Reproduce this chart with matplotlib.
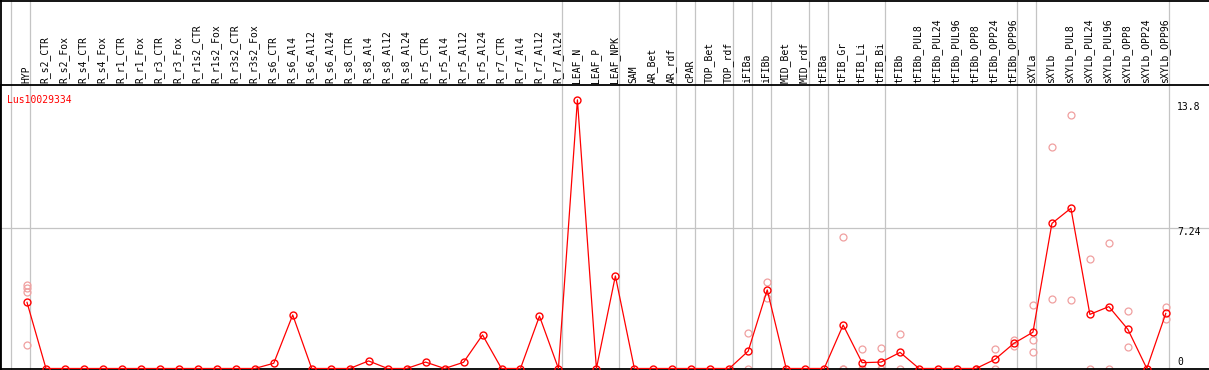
import matplotlib
matplotlib.use("Agg")
import matplotlib.pyplot as plt
from matplotlib.transforms import blended_transform_factory

gene = "Lus10029334"

labels = ["HYP",
          "R_s2_CTR", "R_s2_Fox", "R_s4_CTR", "R_s4_Fox", "R_r1_CTR", "R_r1_Fox",
          "R_r3_CTR", "R_r3_Fox", "R_r1s2_CTR", "R_r1s2_Fox", "R_r3s2_CTR", "R_r3s2_Fox",
          "R_s6_CTR", "R_s6_Al4", "R_s6_Al12", "R_s6_Al24", "R_s8_CTR", "R_s8_Al4",
          "R_s8_Al12", "R_s8_Al24", "R_r5_CTR", "R_r5_Al4", "R_r5_Al12", "R_r5_Al24",
          "R_r7_CTR", "R_r7_Al4", "R_r7_Al12", "R_r7_Al24",
          "LEAF_N", "LEAF_P", "LEAF_NPK", "SAM", "AR_Bet", "AR_rdf", "cPAR",
          "TOP_Bet", "TOP_rdf", "iFIBa", "iFIBb", "MID_Bet", "MID_rdf", "tFIBa",
          "tFIB_Gr", "tFIB_Li", "tFIB_Bi", "tFIBb", "tFIBb_PUL8", "tFIBb_PUL24",
          "tFIBb_PUL96", "tFIBb_OPP8", "tFIBb_OPP24", "tFIBb_OPP96", "sXYLa", "sXYLb",
          "sXYLb_PUL8", "sXYLb_PUL24", "sXYLb_PUL96", "sXYLb_OPP8", "sXYLb_OPP24",
          "sXYLb_OPP96"]

means = [3.41,
         0, 0, 0, 0, 0, 0, 0, 0, 0, 0, 0, 0,
         0.27, 2.76, 0, 0, 0, 0.39, 0, 0, 0.33, 0, 0.32, 1.73, 0, 0, 2.7, 0,
         13.85, 0, 4.77, 0, 0, 0, 0, 0, 0, 0.9, 4.05, 0, 0, 0,
         2.24, 0.3, 0.33, 0.83, 0, 0, 0, 0, 0.47, 1.3, 1.87, 7.48,
         8.26, 2.79, 3.19, 2.02, 0, 2.84]

replicates = {
    "HYP": [4.3, 4.13, 3.96, 1.21],
    "iFIBa": [1.81, 0],
    "iFIBb": [4.47, 3.62],
    "tFIB_Gr": [6.76, 0, 0],
    "tFIB_Li": [0.99, 0, 0],
    "tFIB_Bi": [1.04, 0, 0],
    "tFIBb": [1.78, 0],
    "tFIBb_OPP8": [0],
    "tFIBb_OPP24": [1.0, 0],
    "tFIBb_OPP96": [1.47, 1.18],
    "sXYLa": [3.27, 1.47, 0.83],
    "sXYLb": [11.4, 3.58],
    "sXYLb_PUL8": [13.07, 3.53],
    "sXYLb_PUL24": [5.63, 0],
    "sXYLb_PUL96": [6.45, 0],
    "sXYLb_OPP8": [2.96, 1.09],
    "sXYLb_OPP96": [3.15, 2.54],
}

# last column of each group (separator drawn just after it)
group_ends = ["HYP", "R_r7_Al24", "LEAF_NPK", "AR_rdf", "cPAR", "TOP_rdf", "iFIBa",
              "iFIBb", "MID_rdf", "tFIBa", "tFIB_Bi", "tFIBb_OPP96", "sXYLa", "sXYLb_OPP96"]

ytick_vals = [0, 7.24, 13.8]
ytick_text = ["0", "7.24", "13.8"]

W, H = 1209, 370
fig = plt.figure(figsize=(W / 100, H / 100), dpi=100)
font = "DejaVu Sans Mono"

# pixel layout
top_px, bot_px = 85, 368.5
x0_px, step_px = 27, 18.98
unit_px = 19.4

ax = fig.add_axes([0, (H - bot_px) / H, 1, (bot_px - top_px) / H])
ax.set_xlim((0 - x0_px) / step_px, (W - x0_px) / step_px)
ax.set_ylim(0, (bot_px - top_px) / unit_px)
ax.set_xticks([])
ax.set_yticks([])
ax.spines["right"].set_visible(False)
for s in ["left", "top", "bottom"]:
    ax.spines[s].set_linewidth(1.3)

xs = list(range(len(labels)))
tr = blended_transform_factory(ax.transData, fig.transFigure)

# group separators run the full height of the picture
seps = [-1] + [labels.index(g) for g in group_ends]
for s in seps:
    ax.plot([s + 0.18, s + 0.18], [0, 1], color="#c4c4c4", lw=0.9,
            transform=tr, clip_on=False, zorder=0)

ax.axhline(ytick_vals[1], color="#c4c4c4", lw=0.9, zorder=0)

# column labels
for x, lab in zip(xs, labels):
    ax.text(x - 0.05, (H - 83) / H, lab, transform=tr, rotation=90, ha="center",
            va="bottom", fontsize=7, family=font)

# replicate points
for lab, vals in replicates.items():
    i = labels.index(lab)
    ax.plot([i] * len(vals), vals, "o", ms=5, mfc="none", mec="#f0a0a0", mew=0.9, zorder=2)

# mean line
ax.plot(xs, means, "-o", color="red", lw=0.9, ms=5, mfc="none", mec="red", mew=1.0, zorder=3)

# y labels at the right
offsets = [4.7, -2.9, -4.3]
for v, t, off in zip(ytick_vals, ytick_text, offsets):
    ax.annotate(t, (60.6, v), xytext=(0, off), textcoords="offset points",
                ha="left", va="center", fontsize=7, family=font)

ax.text(0.006, 0.965, gene, transform=ax.transAxes, color="red", fontsize=7,
        family=font, ha="left", va="top")

# outer border top and left
fig.add_artist(plt.Line2D([0, 1], [0.998, 0.998], color="black", lw=1.3, transform=fig.transFigure))
fig.add_artist(plt.Line2D([0.0005, 0.0005], [0, 1], color="black", lw=1.3, transform=fig.transFigure))

fig.savefig("out.png", dpi=100)
